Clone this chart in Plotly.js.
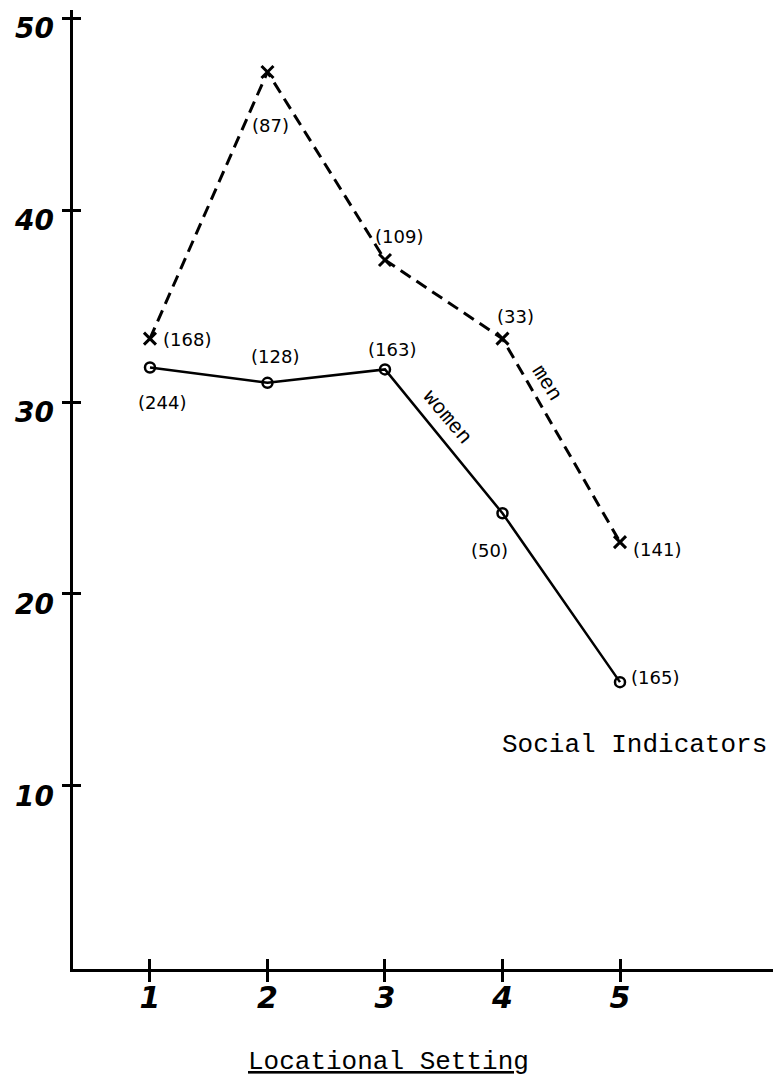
<!DOCTYPE html>
<html>
<head>
<meta charset="utf-8">
<script src="https://cdn.plot.ly/plotly-3.0.1.min.js"></script>
<style>
  html, body { margin: 0; padding: 0; background: #ffffff; }
  #chart { width: 773px; height: 1083px; }
</style>
</head>
<body>
<div id="chart"></div>
<script>
// Locational setting categories on the x axis
const locations = [1, 2, 3, 4, 5];
const locationLabels = ['1', '2', '3', '4', '5'];

// Percentages by sex
const menPct = [33.3, 47.2, 37.4, 33.3, 22.7];
const womenPct = [31.8, 31.0, 31.7, 24.2, 15.4];

// Number of cases behind each point
const menN = [168, 87, 109, 33, 141];
const womenN = [244, 128, 163, 50, 165];

// Y axis ticks
const yTicks = [10, 20, 30, 40, 50];
const yTickLabels = ['10', '20', '30', '40', '50'];

// Pixel offsets [dx, dy] of each case-count label from its point
const menLabelOffset = [[37, 1], [3, 54], [14, -24], [13, -22], [37, 7]];
const womenLabelOffset = [[12, 35], [8, -26], [7, -20], [-13, 37], [35, -5]];

const xRange = [0.345, 6.302];
const yRange = [0.45, 50.43];

const handFont = { family: 'DejaVu Sans', size: 18, color: '#000' };
const typeFont = { family: 'Liberation Mono', color: '#000' };

const women = {
  x: locations, y: womenPct,
  xaxis: 'x', yaxis: 'y',
  mode: 'lines+markers',
  line: { color: '#000', width: 2.5 },
  marker: { symbol: 'circle-open', size: 10, color: '#000', line: { width: 2.5, color: '#000' } },
  hoverinfo: 'skip', showlegend: false
};

const men = {
  x: locations, y: menPct,
  xaxis: 'x2', yaxis: 'y2',
  mode: 'lines+markers',
  line: { color: '#000', width: 3, dash: '12px,7px' },
  marker: { symbol: 'x-thin', size: 12, color: '#000', line: { width: 3, color: '#000' } },
  hoverinfo: 'skip', showlegend: false
};

const annotations = [];
locations.forEach((loc, i) => {
  annotations.push({
    x: loc, y: menPct[i], xref: 'x2', yref: 'y2',
    text: '(' + menN[i] + ')', showarrow: false,
    xanchor: 'center', yanchor: 'middle',
    xshift: menLabelOffset[i][0], yshift: -menLabelOffset[i][1],
    font: handFont
  });
  annotations.push({
    x: loc, y: womenPct[i], xref: 'x', yref: 'y',
    text: '(' + womenN[i] + ')', showarrow: false,
    xanchor: 'center', yanchor: 'middle',
    xshift: womenLabelOffset[i][0], yshift: -womenLabelOffset[i][1],
    font: handFont
  });
});

// Series names written along their lines
annotations.push({
  xref: 'paper', yref: 'paper', x: 0.534, y: 0.5746,
  text: 'women', showarrow: false, textangle: 50,
  xanchor: 'center', yanchor: 'middle',
  font: Object.assign({}, typeFont, { size: 21 })
});
annotations.push({
  xref: 'paper', yref: 'paper', x: 0.677, y: 0.611,
  text: 'men', showarrow: false, textangle: 58,
  xanchor: 'center', yanchor: 'middle',
  font: Object.assign({}, typeFont, { size: 21 })
});
annotations.push({
  xref: 'paper', yref: 'paper', x: 0.802, y: 0.2336,
  text: 'Social Indicators', showarrow: false,
  xanchor: 'center', yanchor: 'middle',
  font: Object.assign({}, typeFont, { size: 26 })
});
annotations.push({
  xref: 'paper', yref: 'paper', x: 0.45, y: -0.097,
  text: '<u>Locational Setting</u>', showarrow: false,
  xanchor: 'center', yanchor: 'middle',
  font: Object.assign({}, typeFont, { size: 26 })
});

const tickFontX = { family: 'DejaVu Sans', size: 30, color: '#000', weight: 'bold', style: 'italic' };
const tickFontY = { family: 'DejaVu Sans', size: 28, color: '#000', weight: 'bold', style: 'italic' };

const layout = {
  width: 773, height: 1083,
  margin: { l: 73, r: 0, t: 10, b: 114 },
  paper_bgcolor: '#ffffff', plot_bgcolor: '#ffffff',
  showlegend: false,
  xaxis: {
    range: xRange, tickvals: locations, ticktext: locationLabels,
    ticks: 'outside', ticklen: 10, tickwidth: 3, tickcolor: '#000',
    showline: true, linewidth: 3, linecolor: '#000',
    showgrid: false, zeroline: false, tickfont: tickFontX,
    ticklabelstandoff: -10, ticklabeloverflow: 'allow', fixedrange: true
  },
  yaxis: {
    range: yRange, tickvals: yTicks, ticktext: yTickLabels,
    ticks: 'outside', ticklen: 8, tickwidth: 3, tickcolor: '#000',
    showline: true, linewidth: 3.5, linecolor: '#000',
    showgrid: false, zeroline: false, tickfont: tickFontY,
    ticklabelshift: 10, ticklabelstandoff: 2, ticklabeloverflow: 'allow', fixedrange: true
  },
  // Overlay axes carry the inner half of each cross-shaped tick
  xaxis2: {
    overlaying: 'x', anchor: 'y2', side: 'bottom',
    range: xRange, tickvals: locations,
    ticks: 'inside', ticklen: 10, tickwidth: 3, tickcolor: '#000',
    showticklabels: false, showline: false, showgrid: false, zeroline: false, fixedrange: true
  },
  yaxis2: {
    overlaying: 'y', anchor: 'x2', side: 'left',
    range: yRange, tickvals: yTicks,
    ticks: 'inside', ticklen: 8, tickwidth: 3, tickcolor: '#000',
    showticklabels: false, showline: false, showgrid: false, zeroline: false, fixedrange: true
  },
  annotations: annotations
};

Plotly.newPlot('chart', [women, men], layout, { staticPlot: true, displayModeBar: false });
</script>
</body>
</html>
